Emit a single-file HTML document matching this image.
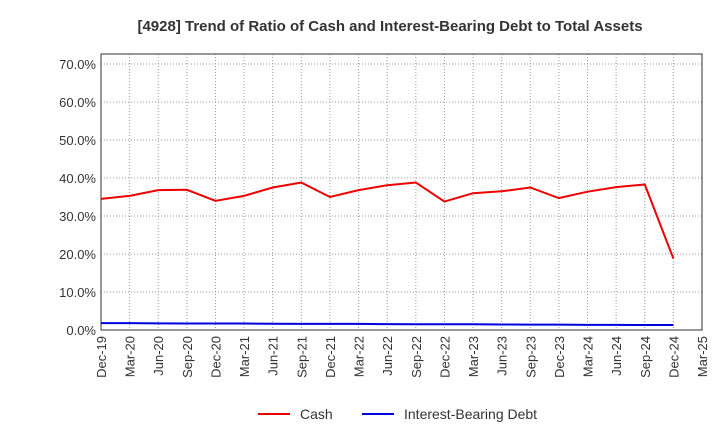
<!DOCTYPE html>
<html><head><meta charset="utf-8"><style>
body{margin:0;background:#fff;font-family:"Liberation Sans",sans-serif;}
</style></head><body>
<svg width="720" height="440" xmlns="http://www.w3.org/2000/svg">
<text x="390" y="31" text-anchor="middle" font-size="15" font-weight="bold" fill="#333">[4928]  Trend of Ratio of Cash and Interest-Bearing Debt to Total Assets</text>
<g id="grid"></g><g id="axes"></g><g id="series"></g>
<g>
<line x1="258" y1="414" x2="290" y2="414" stroke="#e00" stroke-width="2"/>
<text x="300" y="419" font-size="14" fill="#333">Cash</text>
<line x1="362" y1="414" x2="394" y2="414" stroke="#00d" stroke-width="2"/>
<text x="404" y="419" font-size="14" fill="#333">Interest-Bearing Debt</text>
</g>
</svg>
<script>
const categories=["Dec-19","Mar-20","Jun-20","Sep-20","Dec-20","Mar-21","Jun-21","Sep-21","Dec-21","Mar-22","Jun-22","Sep-22","Dec-22","Mar-23","Jun-23","Sep-23","Dec-23","Mar-24","Jun-24","Sep-24","Dec-24","Mar-25"];
const cash=[34.5,35.3,36.8,36.9,34.0,35.3,37.5,38.8,35.0,36.8,38.1,38.8,33.8,36.0,36.5,37.5,34.7,36.4,37.6,38.3,18.8];
const debt=[1.8,1.8,1.75,1.7,1.7,1.7,1.65,1.6,1.6,1.6,1.55,1.5,1.5,1.5,1.45,1.4,1.4,1.35,1.35,1.3,1.3];
const yTicks=[0,10,20,30,40,50,60,70];
const NS="http://www.w3.org/2000/svg";
const L=101,R=702,T=54,B=330;
const x=i=>L+i*(R-L)/(categories.length-1);
const y=v=>B-v*3.8;
function mk(tag,attrs,parent){const e=document.createElementNS(NS,tag);for(const k in attrs)e.setAttribute(k,attrs[k]);document.getElementById(parent).appendChild(e);return e;}
mk("rect",{x:L,y:T,width:R-L,height:B-T,fill:"none",stroke:"#333","stroke-width":1},"axes");
yTicks.forEach(v=>{
 const g=mk("line",{x1:L,x2:R,y1:y(v),y2:y(v),stroke:"#999","stroke-dasharray":"1,2"},"grid");
 
 
 const t=mk("text",{x:L-5,y:y(v)+5,"text-anchor":"end","font-size":13,fill:"#333"},"axes");
 t.textContent=v.toFixed(1)+"%";
 
 
});
categories.forEach((c,i)=>{
 const g=mk("line",{x1:x(i),x2:x(i),y1:T,y2:B,stroke:"#999","stroke-dasharray":"1,2"},"grid");
 
 
 const t=mk("text",{x:0,y:0,"text-anchor":"end","font-size":13,fill:"#333",transform:`translate(${x(i)+5},${B+6}) rotate(-90)`},"axes");
 t.textContent=c;
 
 
});
const p1=mk("polyline",{points:cash.map((v,i)=>x(i)+","+y(v)).join(" "),fill:"none",stroke:"#e00","stroke-width":2},"series");


const p2=mk("polyline",{points:debt.map((v,i)=>x(i)+","+y(v)).join(" "),fill:"none",stroke:"#00d","stroke-width":2},"series");


</script>
</body></html>
